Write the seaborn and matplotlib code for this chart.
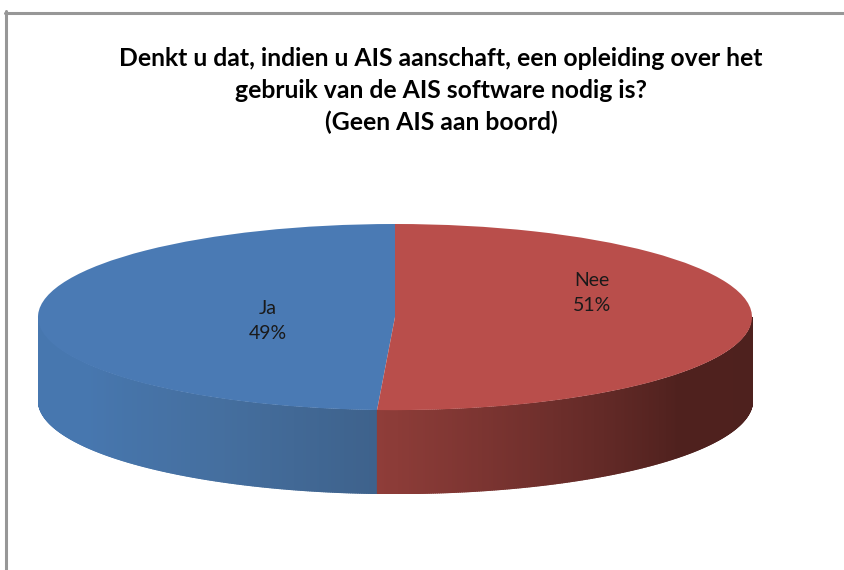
import seaborn as sns
import matplotlib.pyplot as plt
import matplotlib.colors as mcolors
import numpy as np

# Chart data
labels = ['Ja', 'Nee']
shares = [49.2, 50.8]
title_lines = ['Denkt u dat, indien u AIS aanschaft, een opleiding over het',
               'gebruik van de AIS software nodig is?',
               '(Geen AIS aan boord)']

W, H = 844, 570
top_colors = ['#4a7ab4', '#b94e4b']
# wall shades per slice, from the left end of the visible wall to the right end
wall_colors = [[(0, '#4777af'), (0.35, '#4777af'), (0.7, '#456f9f'), (1, '#3e628c')],
               [(0, '#8f3d39'), (0.3, '#6f2f2c'), (0.6, '#4f211e'), (1, '#4e211e')]]
DEPTH = 0.89


def wall_strip(ax, a0, a1, stops):
    # one slice of the cylinder side, built from thin vertical strips
    cmap = mcolors.LinearSegmentedColormap.from_list('wall', stops)
    angles = np.linspace(a0, a1, 300)
    for i in range(len(angles) - 1):
        t = np.radians(angles[i:i + 2])
        x = np.cos(t)
        y = np.sin(t)
        c = cmap(i / (len(angles) - 2))
        ax.fill_between(x, y, y - DEPTH, color=c, lw=1, zorder=1)


def main():
    sns.set_theme(style='white')
    plt.rcParams['font.family'] = ['Lato', 'DejaVu Sans']

    fig = plt.figure(figsize=(W / 100, H / 100), dpi=100, facecolor='white')

    # Pie plot, squashed into an ellipse
    ax = fig.add_axes([38 / W, 1 - 410 / H - 83 / H, 714 / W, (186 + 83) / H])
    wedges, _ = ax.pie(shares, colors=top_colors, startangle=90, counterclock=True,
                       radius=1, wedgeprops={'zorder': 3, 'lw': 0})
    ax.set_aspect('auto')
    ax.set_xlim(-1, 1)
    ax.set_ylim(-1 - DEPTH, 1)

    # Bottom half of the side wall, split where the two slices meet
    split = 90 + shares[0] / sum(shares) * 360
    wall_strip(ax, 180, split, wall_colors[0])
    wall_strip(ax, split, 360, wall_colors[1])

    # Labels on the top face
    label_pos = [(-0.356, -0.04), (0.552, 0.26)]
    for name, share, (x, y) in zip(labels, shares, label_pos):
        ax.text(x, y, f'{name}\n{share:.0f}%', ha='center', va='center', fontsize=14,
                color='#1a1a1a', linespacing=1.6, zorder=5)

    # Title
    for line, y in zip(title_lines, [59, 90, 122]):
        fig.text(441 / W, 1 - y / H, line, ha='center', va='center', fontsize=17.8,
                 fontweight='bold', color='black')

    # Chart frame: only the left and top edges are visible
    frame = '#979797'
    fig.add_artist(plt.Line2D([5.5 / W, 5.5 / W], [0, 1 - 11 / H], color=frame, lw=2.2))
    fig.add_artist(plt.Line2D([4.5 / W, 1], [1 - 12.5 / H, 1 - 12.5 / H], color=frame, lw=2.2))

    plt.savefig('out.png', dpi=100)


if __name__ == '__main__':
    main()
